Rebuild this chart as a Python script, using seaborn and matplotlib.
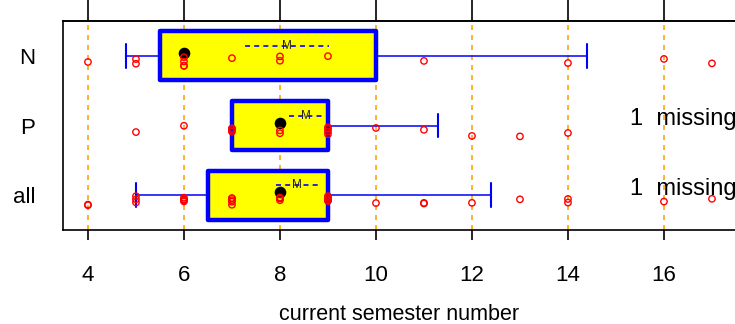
import numpy as np
import pandas as pd
import matplotlib
matplotlib.use("Agg")
import matplotlib.pyplot as plt
import seaborn as sns

# groups (top to bottom) and observed semester numbers per group
groups = ["N", "P", "all"]
semester_N = [4, 5, 5, 6, 6, 6, 6, 7, 8, 8, 9, 11, 14, 16, 17]
semester_P = [5, 6, 7, 7, 7, 7, 8, 8, 9, 9, 9, 9, 10, 11, 12, 13, 14]
semester_all = [4, 4, 5, 5, 5, 6, 6, 6, 6, 6, 7, 7, 7, 7, 7, 8, 8, 8, 8,
                9, 9, 9, 9, 9, 10, 11, 11, 12, 13, 14, 14, 16, 17]

# box summaries per group
q1 = [5.5, 7.0, 6.5]
median = [6.0, 8.0, 8.0]
q3 = [10.0, 9.0, 9.0]
whisker_lo = [4.8, 7.0, 5.0]
whisker_hi = [14.4, 11.3, 12.4]
mean = [8.15, 8.55, 8.35]
mean_lo = [7.27, 8.19, 7.92]
mean_hi = [9.02, 8.94, 8.79]
missing = [0, 1, 1]

x_ticks = [4, 6, 8, 10, 12, 14, 16]

sns.set_theme(style="white")
plt.rcParams["font.family"] = ["Liberation Sans", "DejaVu Sans"]
plt.rcParams["text.color"] = "black"
plt.rcParams["xtick.color"] = "black"
plt.rcParams["ytick.color"] = "black"
plt.rcParams["axes.labelcolor"] = "black"

fig = plt.figure(figsize=(7.35, 3.24), dpi=100)
ax = fig.add_axes([63 / 735, 94 / 324, 672 / 735, 209 / 324])

# dashed reference lines at the major ticks
for xv in x_ticks:
    ax.axvline(xv, color="orange", linestyle=(0, (3, 3)), linewidth=1.2, zorder=0)

# boxes with whiskers
stats = []
for i, g in enumerate(groups):
    stats.append(dict(label=g, q1=q1[i], med=median[i], q3=q3[i],
                      whislo=whisker_lo[i], whishi=whisker_hi[i], fliers=[]))
ax.bxp(stats, positions=range(len(groups)), widths=0.7, orientation="horizontal",
       patch_artist=True, showfliers=False, capwidths=0.34, manage_ticks=False,
       boxprops=dict(facecolor="yellow", edgecolor="blue", linewidth=3.2,
                     joinstyle="round"),
       whiskerprops=dict(color="blue", linewidth=1.1),
       capprops=dict(color="blue", linewidth=1.5),
       medianprops=dict(linewidth=0))
for p in ax.patches:
    p.set_zorder(2)

# median dots
sns.scatterplot(x=median, y=np.arange(len(groups)) - 0.04, color="black",
                s=70, edgecolor="black", linewidth=0, ax=ax, zorder=3)

# mean interval with "M" label
ypos = np.arange(len(groups)) - 0.14
ax.hlines(ypos, mean_lo, mean_hi, colors="blue", linestyles=(0, (3, 2.5)),
          linewidth=1.2, zorder=3)
for i in range(len(groups)):
    ax.text(mean[i], ypos[i], "M", fontsize=8.5, color="#222222",
            ha="center", va="center", zorder=4)

# individual observations
df = pd.DataFrame({
    "group": ["N"] * len(semester_N) + ["P"] * len(semester_P) + ["all"] * len(semester_all),
    "semester": semester_N + semester_P + semester_all,
})
np.random.seed(3)
n_before = len(ax.collections)
sns.stripplot(data=df, x="semester", y="group", order=groups, jitter=0.08,
              marker="o", size=4.6, ax=ax, zorder=5)
for coll in ax.collections[n_before:]:
    offs = coll.get_offsets()
    offs[:, 1] += 0.08
    coll.set_offsets(offs)
    coll.set_facecolor("none")
    coll.set_edgecolor("red")
    coll.set_linewidth(1.0)

# missing-value notes
for i, m in enumerate(missing):
    if m:
        ax.text(15.29, i - 0.09, f"{m}  missing", fontsize=17, ha="left",
                va="center", color="black", clip_on=False)

ax.set_xlim(3.48, 17.48)
ax.set_ylim(2.5, -0.5)
ax.set_xticks(x_ticks)
ax.set_xticklabels([str(t) for t in x_ticks])
ax.set_yticks(range(len(groups)))
ax.set_yticklabels(groups)
ax.set_ylabel("")
ax.set_xlabel("current semester number", fontsize=15.5, labelpad=13, color="black")
ax.tick_params(axis="x", bottom=True, length=7, width=1.2, color="black",
               labelsize=16, pad=18, labelcolor="black")
ax.tick_params(axis="y", left=False, length=0, labelsize=16, pad=20,
               labelcolor="black")

secax = ax.secondary_xaxis("top")
secax.set_xticks(x_ticks)
secax.set_xticklabels([])
secax.tick_params(length=16, width=1.2, color="black")
secax.spines["top"].set_linewidth(1.2)
secax.spines["top"].set_color("black")

for side in ["left", "top", "bottom"]:
    ax.spines[side].set_color("black")
    ax.spines[side].set_linewidth(1.2)
ax.spines["right"].set_visible(False)

fig.savefig("out.png", dpi=100)
